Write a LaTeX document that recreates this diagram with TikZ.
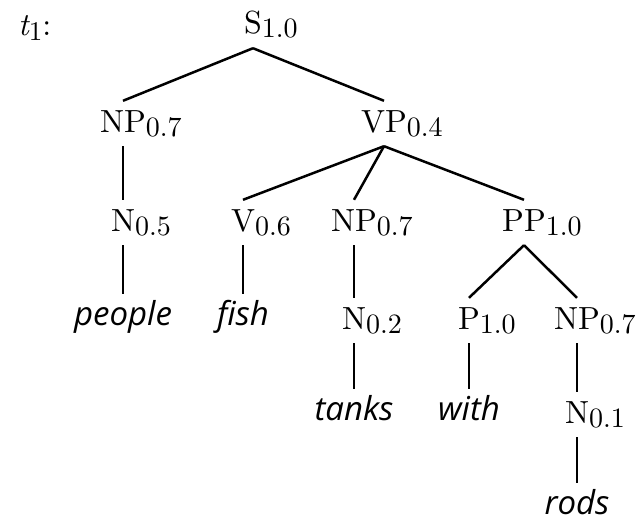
\documentclass[tikz,border=0pt]{standalone}
\usepackage{fontspec}
\newfontfamily\wordfont{Open Sans}
\newfontfamily\cmfont{lmroman10-regular.otf}
\newfontfamily\cmitfont{lmroman10-italic.otf}
\newcommand{\lab}[2]{#1\rlap{\raisebox{-4pt}{\fontsize{28}{32}\selectfont #2}}}
\begin{document}
\begin{tikzpicture}[x=1pt,y=-1pt,
  every node/.style={font=\fontsize{32}{38}\selectfont\cmfont},
  cat/.style={anchor=base,inner xsep=0pt,inner ysep=9pt,text height=22pt,text depth=5pt},
  word/.style={anchor=base,inner xsep=0pt,inner ysep=0pt,text height=31pt,text depth=0pt,font=\fontsize{33}{38}\selectfont\wordfont\itshape},
  edge/.style={line width=2.5pt}]
\useasboundingbox (0,0) rectangle (638,522);
\node[anchor=base west,inner sep=0pt] (t) at (18,35) {{\cmitfont t}\raisebox{-5pt}{\fontsize{27}{30}\selectfont 1}:};
\node[cat] (S) at (253,34) {\lab{S}{1.0}};
\node[cat] (NPa) at (123,132) {\lab{NP}{0.7}};
\node[cat] (VP) at (384,132) {\lab{VP}{0.4}};
\node[cat] (Na) at (123,231) {\lab{N}{0.5}};
\node[cat] (V) at (243,231) {\lab{V}{0.6}};
\node[cat] (NPb) at (354,231) {\lab{NP}{0.7}};
\node[cat] (PP) at (524,231) {\lab{PP}{1.0}};
\node[word] (people) at (123,325) {people};
\node[word] (fish) at (243,325) {fish};
\node[cat] (Nb) at (354,329) {\lab{N}{0.2}};
\node[cat] (P) at (469,329) {\lab{P}{1.0}};
\node[cat] (NPc) at (577,329) {\lab{NP}{0.7}};
\node[word] (tanks) at (354,420) {tanks};
\node[word] (with) at (469,420) {with};
\node[cat] (Nc) at (577,423) {\lab{N}{0.1}};
\node[word] (rods) at (577,514) {rods};
\draw[edge] (S.south) -- (NPa.north);
\draw[edge] (S.south) -- (VP.north);
\draw[edge] (NPa.south) -- (Na.north);
\draw[edge] (VP.south) -- (V.north);
\draw[edge] (VP.south) -- (NPb.north);
\draw[edge] (VP.south) -- (PP.north);
\draw[edge] (Na.south) -- (people.north);
\draw[edge] (V.south) -- (fish.north);
\draw[edge] (NPb.south) -- (Nb.north);
\draw[edge] (PP.south) -- (P.north);
\draw[edge] (PP.south) -- (NPc.north);
\draw[edge] (Nb.south) -- (tanks.north);
\draw[edge] (P.south) -- (with.north);
\draw[edge] (NPc.south) -- (Nc.north);
\draw[edge] (Nc.south) -- (rods.north);
\end{tikzpicture}
\end{document}
